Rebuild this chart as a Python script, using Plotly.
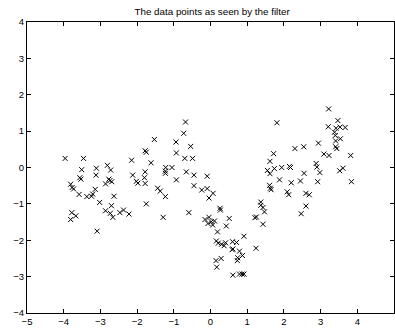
import plotly.graph_objects as go

x_vals = [
    -3.96, -3.46, -3.51, -3.11, -3.12, -2.81, -2.72, -3.56, -3.53, -3.81,
    -3.77, -3.73, -3.58, -3.37, -3.24, -3.21, -3.14, -3.02, -3.78, -3.67,
    -3.81, -3.09, -2.86, -2.77, -2.74, -2.69, -2.63, -2.70, -2.86, -2.73,
    -2.66, -2.47, -2.37, -2.22, -2.15, -2.12,
    -2.02, -1.98, -1.78, -1.75, -1.53, -1.62, -1.78, -1.80, -1.78, -1.75,
    -1.44, -1.37, -1.23, -1.29, -1.22, -1.05, -1.23, -1.23, -0.94, -0.93,
    -0.93, -0.73, -0.68, -0.54, -0.70, -0.49, -0.66, -0.59,
    -0.45, -0.45, -0.09, -0.24, -0.09, 0.07, -0.04, 0.26, 0.27, -0.15,
    -0.04, 0.02, 0.11, 0.06, -0.07, 0.51, 0.43, 0.19, 0.91, 0.16,
    0.21, 0.30, 0.37, 0.41, 0.60, 0.71, 0.59, 0.61, 0.79, 0.87,
    0.74, 0.73, 0.15, 0.29, 0.17, 0.61, 0.79, 0.86, 0.91, 1.24,
    1.21, 1.25, 1.43, 1.37, 1.37, 1.43, 1.47,
    1.61, 1.63, 1.65, 1.55, 1.62, 1.62, 1.72, 1.74, 1.88, 1.94,
    2.15, 2.18, 2.09, 2.13, 2.20, 2.47, 2.60, 2.45, 2.55, 2.60,
    2.69, 2.88, 2.90, 2.98, 2.92, 3.52, 3.61, 3.84, 3.22, 1.81,
    3.47, 3.21, 3.42, 3.53, 3.67, 3.38, 3.40, 3.54, 3.41, 3.41,
    3.44, 2.94, 2.30, 2.54, 3.09, 3.23, 3.82,
]
y_vals = [
    0.25, 0.25, -0.06, -0.02, -0.21, 0.06, -0.07, -0.28, -0.32, -0.46,
    -0.55, -0.59, -0.74, -0.80, -0.79, -0.73, -0.60, -0.96, -1.24, -1.33,
    -1.43, -1.75, -0.45, -0.32, -0.36, -0.39, -0.79, -1.05, -1.19, -1.26,
    -1.37, -1.24, -1.17, -1.28, 0.20, -0.21,
    -0.38, -0.43, 0.46, 0.42, 0.77, 0.13, -0.12, -0.28, -0.44, -1.00,
    -0.57, -0.65, -0.80, -1.37, 0.00, 0.00, -0.10, -0.16, 0.70, 0.40,
    -0.34, 0.94, 1.25, 0.58, 0.25, 0.25, -0.12, -1.24,
    -0.21, -0.50, -0.24, -0.62, -0.58, -0.71, -0.84, -1.12, -1.17, -1.43,
    -1.37, -1.49, -1.47, -1.58, -1.54, -1.40, -1.61, -1.77, -1.89, -2.02,
    -2.08, -2.11, -2.15, -2.07, -2.04, -2.06, -2.26, -2.24, -2.30, -2.42,
    -2.48, -2.56, -2.56, -2.50, -2.74, -2.96, -2.93, -2.93, -2.93, -2.22,
    -1.38, -1.36, -1.56, -0.95, -1.04, -1.10, -1.22,
    -0.49, -0.57, -0.61, -0.08, -0.17, 0.17, 0.38, -0.03, -0.34, 0.00,
    0.03, 0.00, -0.67, -0.75, -0.42, -1.27, -1.06, -0.37, -0.16, -0.71,
    -0.75, 0.11, 0.01, -0.14, -0.39, -0.09, -0.02, -0.39, 1.61, 1.23,
    1.29, 1.12, 1.08, 1.11, 1.10, 0.97, 0.88, 0.79, 0.73, 0.57,
    0.52, 0.67, 0.52, 0.57, 0.37, 0.33, 0.33,
]

x_ticks = [-5, -4, -3, -2, -1, 0, 1, 2, 3, 4, 5]
y_ticks = [-4, -3, -2, -1, 0, 1, 2, 3, 4]
title_text = "The data points as seen by the filter"

fig = go.Figure()
fig.add_trace(go.Scatter(
    x=x_vals, y=y_vals, mode="markers",
    marker=dict(symbol="x-thin", size=5, color="black",
                line=dict(color="black", width=1)),
    showlegend=False,
))

axis_common = dict(
    showgrid=False, zeroline=False, showline=True, linecolor="black",
    linewidth=1, mirror="ticks", ticks="inside", ticklen=4,
    tickcolor="black", tickwidth=1,
    tickfont=dict(family="Liberation Sans, Arial, sans-serif", size=9.5, color="black"),
)
fig.update_xaxes(range=[-5, 5], tickvals=x_ticks, **axis_common)
fig.update_yaxes(range=[-4, 4], tickvals=y_ticks, **axis_common)

fig.update_layout(
    width=395, height=331,
    margin=dict(l=27, r=1, t=22, b=18),
    paper_bgcolor="white", plot_bgcolor="white",
    title=dict(text=title_text, x=0.537, xanchor="center", y=0.965, yanchor="middle",
               font=dict(family="Liberation Sans, Arial, sans-serif", size=9.8, color="black")),
)

fig.write_html("out.html")
